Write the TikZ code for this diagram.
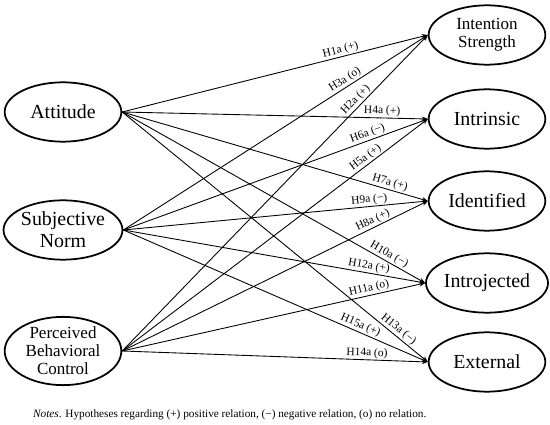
\documentclass[tikz,border=0pt]{standalone}
\usepackage{fontspec}
\setmainfont{Liberation Serif}
\usepackage{tikz}
\usetikzlibrary{arrows.meta, positioning, shapes.geometric}

\tikzset{
  construct/.style={ellipse, draw, line width=1.5pt, minimum width=3.5cm, minimum height=1.78cm, inner sep=0pt, align=center, font=\fontsize{17}{19}\selectfont},
  smallconstruct/.style={construct, font=\fontsize{14.5}{15.5}\selectfont},
  hyp/.style={-{Stealth[length=5pt,width=4pt]}, line width=0.75pt},
  hyplabel/.style={sloped, above, inner sep=1pt, font=\fontsize{9.8}{11}\selectfont}
}

\begin{document}
\begin{tikzpicture}[x=0.03cm, y=-0.03cm]
  \useasboundingbox (0,0) rectangle (550,425);
  % predictors
  \node[construct] (att) at (63,112) {Attitude};
  \node[construct] (sn) at (63,230) {Subjective\\Norm};
  \node[smallconstruct] (pbc) at (63,351) {Perceived\\Behavioral\\Control};
  % outcomes
  \node[smallconstruct] (intent) at (487,35) {Intention\\Strength};
  \node[construct] (intr) at (487,119) {Intrinsic};
  \node[construct] (iden) at (487,201) {Identified};
  \node[construct] (intro) at (487,283) {Introjected};
  \node[construct] (ext) at (487,362) {External};
  % hypotheses
  \foreach \from/\to/\p/\lab in {
      att/intent/0.72/{H1a (+)}, sn/intent/0.74/{H3a (o)}, pbc/intent/0.78/{H2a (+)},
      att/intr/0.85/{H4a (+)}, sn/intr/0.81/{H6a (−)}, pbc/intr/0.81/{H5a (+)},
      att/iden/0.87/{H7a (+)}, sn/iden/0.81/{H9a (−)}, pbc/iden/0.83/{H8a (+)},
      att/intro/0.87/{H10a (−)}, sn/intro/0.81/{H12a (+)}, pbc/intro/0.82/{H11a (o)},
      att/ext/0.89/{H13a (−)}, sn/ext/0.77/{H15a (+)}, pbc/ext/0.80/{H14a (o)}}
    \draw[hyp] (\from.east) -- node[hyplabel, pos=\p] {\lab} (\to.west);
  % notes
  \node[anchor=west, inner sep=0pt, font=\fontsize{9.6}{11}\selectfont] (notes) at (33,415)
    {\textit{Notes}. Hypotheses regarding (+) positive relation, (−) negative relation, (o) no relation.};
\end{tikzpicture}
\end{document}
